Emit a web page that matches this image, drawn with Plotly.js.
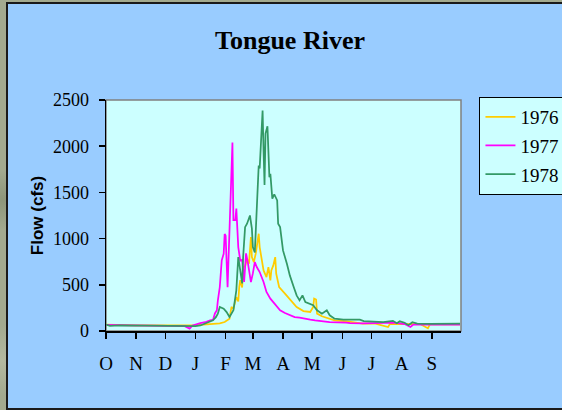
<!DOCTYPE html>
<html>
<head>
<meta charset="utf-8">
<script src="https://cdn.plot.ly/plotly-3.0.1.min.js"></script>
<style>
  html, body { margin: 0; padding: 0; width: 562px; height: 410px; overflow: hidden; }
  body {
    background-color: #a3aa8f;
    background-image:
      radial-gradient(circle at 20% 30%, rgba(200,205,180,0.45) 0, rgba(200,205,180,0) 40px),
      radial-gradient(circle at 3px 200px, rgba(120,130,100,0.5) 0, rgba(120,130,100,0) 30px),
      radial-gradient(circle at 2px 360px, rgba(190,195,170,0.6) 0, rgba(190,195,170,0) 35px);
  }
  #frame {
    position: absolute; left: 6px; top: 2px;
    width: 560px; height: 404px;
    border: 2px solid #1a1a1a;
    background: #99CCFF;
  }
  #chart { position: absolute; left: 0; top: 0; width: 554px; height: 404px; }
</style>
</head>
<body>
<div id="frame"><div id="chart"></div></div>
<script>
// Day of water year (0 = Oct 1) and daily flow (cfs)
const monthStarts = [0, 31, 61, 92, 123, 151, 182, 212, 243, 273, 304, 335];
const monthLabels = ['O', 'N', 'D', 'J', 'F', 'M', 'A', 'M', 'J', 'J', 'A', 'S'];

const days1976 = [0,10,30,50,70,90,100,110,117,122,127,129,131,134,136,137,138,140,141,143,145,147,149,150,152,154,156,157,158,160,162,165,167,169,170,172,174,175,178,184,187,191,196,203,210,213,214,216,217,222,229,235,248,264,277,290,292,313,323,331,333,349,364];
const flow1976 = [70,65,62,60,58,60,70,80,83,97,134,260,240,368,320,476,550,470,692,700,782,728,1016,800,746,840,1016,1053,908,800,656,584,692,548,656,710,800,620,476,404,368,314,260,216,206,260,350,340,188,159,134,116,105,80,80,43,78,80,75,30,72,75,72];

const days1977 = [0,9,25,45,66,81,86,89,97,102,107,110,112,114,115,117,119,121,122,123,125,126,127,130,131,133,134,136,138,140,142,144,146,149,151,153,155,158,162,165,169,172,176,179,184,189,194,199,206,210,215,220,230,247,251,264,282,297,307,313,316,333,349,364];
const flow1977 = [65,62,60,58,55,52,26,60,85,95,116,120,190,224,330,476,765,836,1050,1030,475,800,1197,2040,1200,1200,1325,908,765,770,530,840,730,530,623,746,692,638,530,422,350,314,260,224,195,170,150,145,128,123,115,108,97,90,85,82,86,90,75,43,70,68,72,70];

const days1978 = [0,4,14,35,56,76,92,97,102,107,110,113,115,117,121,124,127,131,134,136,138,140,141,143,145,148,150,151,153,155,157,158,159,161,162,163,164,166,168,169,171,173,176,177,179,181,182,186,189,193,196,199,202,205,210,213,217,222,227,230,235,244,261,265,285,295,299,302,307,311,315,320,333,349,364];
const flow1978 = [70,55,62,58,55,50,52,60,83,100,116,150,188,260,242,205,151,224,440,800,623,515,800,1124,1161,1250,1107,908,850,1377,1791,1760,1953,2386,1953,1580,2137,2215,1665,1700,1431,1480,1413,1161,1124,980,872,728,602,476,386,332,386,314,289,278,224,188,224,170,134,123,123,108,97,110,85,105,90,62,95,80,78,80,80];

const serif = 'Liberation Serif, Times New Roman, serif';

const traces = [
  {x: days1976, y: flow1976, name: '1976', legendgroup: 'a', mode: 'lines', line: {color: '#FFCC00', width: 1.75}},
  {x: days1977, y: flow1977, name: '1977', legendgroup: 'b', mode: 'lines', line: {color: '#FF00FF', width: 1.75}},
  {x: days1978, y: flow1978, name: '1978', legendgroup: 'c', mode: 'lines', line: {color: '#339966', width: 1.75}}
];

const layout = {
  width: 554, height: 404,
  margin: {l: 98, r: 101, t: 95.5, b: 77.3, pad: 0, autoexpand: false},
  paper_bgcolor: 'rgba(0,0,0,0)',
  plot_bgcolor: '#CCFFFF',
  showlegend: true,
  title: {
    text: '<b>Tongue River</b>',
    font: {family: serif, size: 26, color: '#000'},
    xref: 'container', x: 0.509, xanchor: 'center',
    yref: 'container', y: 0.91, yanchor: 'middle'
  },
  xaxis: {
    range: [0, 365], fixedrange: true, automargin: false,
    tickmode: 'array', tickvals: monthStarts, ticktext: monthLabels,
    ticks: 'outside', ticklen: 6, tickwidth: 1.5, tickcolor: '#000',
    ticklabelstandoff: 9,
    showline: true, linecolor: '#000', linewidth: 1.5,
    showgrid: false, zeroline: false,
    tickfont: {family: serif, size: 19, color: '#000'}
  },
  yaxis: {
    range: [0, 2500], fixedrange: true, automargin: false,
    tickmode: 'array', tickvals: [0, 500, 1000, 1500, 2000, 2500],
    ticks: 'outside', ticklen: 6, tickwidth: 1.5, tickcolor: '#000',
    ticklabelstandoff: 6,
    showline: true, linecolor: '#000', linewidth: 1.5,
    showgrid: false, zeroline: false,
    tickfont: {family: serif, size: 18, color: '#000'},
    title: {text: '<b>Flow (cfs)</b>', standoff: 5,
            font: {family: 'Liberation Sans, Arial, sans-serif', size: 17, color: '#000'}}
  },
  legend: {
    xref: 'container', yref: 'container',
    x: 0.851, xanchor: 'left', y: 0.770, yanchor: 'top',
    bgcolor: '#CCFFFF', bordercolor: '#000', borderwidth: 1,
    font: {family: serif, size: 19, color: '#000'},
    traceorder: 'grouped', tracegroupgap: 1
  },
  shapes: [{
    type: 'rect', xref: 'paper', yref: 'paper', x0: 0, x1: 1, y0: 0, y1: 1,
    line: {color: '#808080', width: 1.5}, layer: 'below'
  }]
};

Plotly.newPlot('chart', traces, layout, {staticPlot: true, displayModeBar: false});
</script>
</body>
</html>
